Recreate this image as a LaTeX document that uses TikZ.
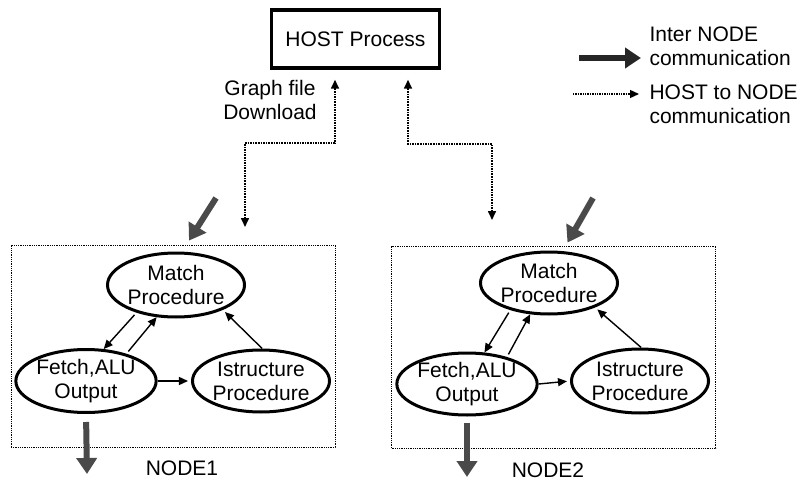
\documentclass[tikz,border=0pt]{standalone}
\usepackage{fontspec}
\setmainfont{Liberation Sans}
\usetikzlibrary{arrows.meta, positioning, shapes.geometric}
\definecolor{linkcolor}{HTML}{4A4A4A}

\begin{document}
\begin{tikzpicture}[x=1pt, y=-1pt,
    font=\fontsize{21}{24}\selectfont,
    hostbox/.style={draw, line width=3.5pt, minimum width=168pt, minimum height=58pt},
    proc/.style={draw, ellipse, line width=3pt, inner sep=0pt, align=center},
    nodebox/.style={draw, densely dotted, line width=0.8pt, minimum width=324pt,
                    minimum height=202pt},
    flow/.style={-{Triangle[length=9pt, width=8pt]}, line width=1.4pt},
    hostcomm/.style={densely dotted, line width=1.6pt,
                     {Triangle[length=9pt, width=8pt]}-{Triangle[length=9pt, width=8pt]}},
    internode/.style={-{Triangle[length=16pt, width=20pt]}, line width=6pt, linkcolor}
]
    \useasboundingbox (0,0) rectangle (806,484);

    % host and legend
    \node[hostbox] (host) at (355.5,39) {HOST Process};
    \node[align=center] (gfd) at (270,100) {Graph file\\Download};

    \coordinate (lg1a) at (579,58);
    \coordinate (lg1b) at (641,58);
    \coordinate (lg2a) at (573,94);
    \coordinate (lg2b) at (639,94);
    \draw[internode, black!85] (lg1a) -- (lg1b);
    \draw[densely dotted, line width=1.4pt, -{Triangle[length=9pt, width=8pt]}] (lg2a) -- (lg2b);
    \node[align=left, anchor=west] (lg1) at (646,46) {Inter NODE\\communication};
    \node[align=left, anchor=west] (lg2) at (646,104) {HOST to NODE\\communication};

    % the two processing nodes
    \node[nodebox] (box1) at (173,346) {};
    \node[nodebox] (box2) at (553.5,347) {};

    \node[proc, minimum width=128pt, minimum height=64pt] (match1) at (176,285) {Match\\Procedure};
    \node[proc, minimum width=132pt, minimum height=63pt] (fetch1) at (86,381) {Fetch,ALU\\Output};
    \node[proc, minimum width=128pt, minimum height=62pt] (istr1) at (261,381) {Istructure\\Procedure};

    \node[proc, minimum width=128pt, minimum height=62pt] (match2) at (549,283) {Match\\Procedure};
    \node[proc, minimum width=130pt, minimum height=62pt] (fetch2) at (467,384) {Fetch,ALU\\Output};
    \node[proc, minimum width=130pt, minimum height=64pt] (istr2) at (640,381) {Istructure\\Procedure};

    \node (lbl1) at (182,468) {NODE1};
    \node (lbl2) at (548,470) {NODE2};

    % links inside each node
    \foreach \n in {1,2} {
        \draw[flow, shorten <=3pt] (match\n.215) -- (fetch\n.61);
        \draw[flow, shorten <=3pt] (fetch\n.34) -- (match\n.239);
        \draw[flow, shorten >=3pt] (fetch\n.east) -- (istr\n.west);
        \draw[flow, shorten >=3pt] (istr\n.88) -- (match\n.-28);
    }

    % host to node download paths
    \coordinate (dl1) at (245,227);
    \coordinate (dl2) at (492,220);
    \draw[hostcomm, shorten >=10pt] (dl1) |- (335,143) -- ([xshift=-20.5pt]host.south);
    \draw[hostcomm, shorten >=10pt] (dl2) |- (408,144) -- ([xshift=52.5pt]host.south);

    % inter node traffic
    \coordinate (in1) at (216,198);
    \coordinate (in2) at (593,198);
    \coordinate (out1) at (87,474);
    \coordinate (out2) at (467,477);
    \draw[internode] (in1) -- ([xshift=16pt, yshift=4pt]box1.north);
    \draw[internode] (in2) -- ([xshift=14pt, yshift=3pt]box2.north);
    \draw[internode, shorten <=8pt] (fetch1.south) -- (out1);
    \draw[internode, shorten <=6pt] (fetch2.south) -- (out2);
\end{tikzpicture}
\end{document}
